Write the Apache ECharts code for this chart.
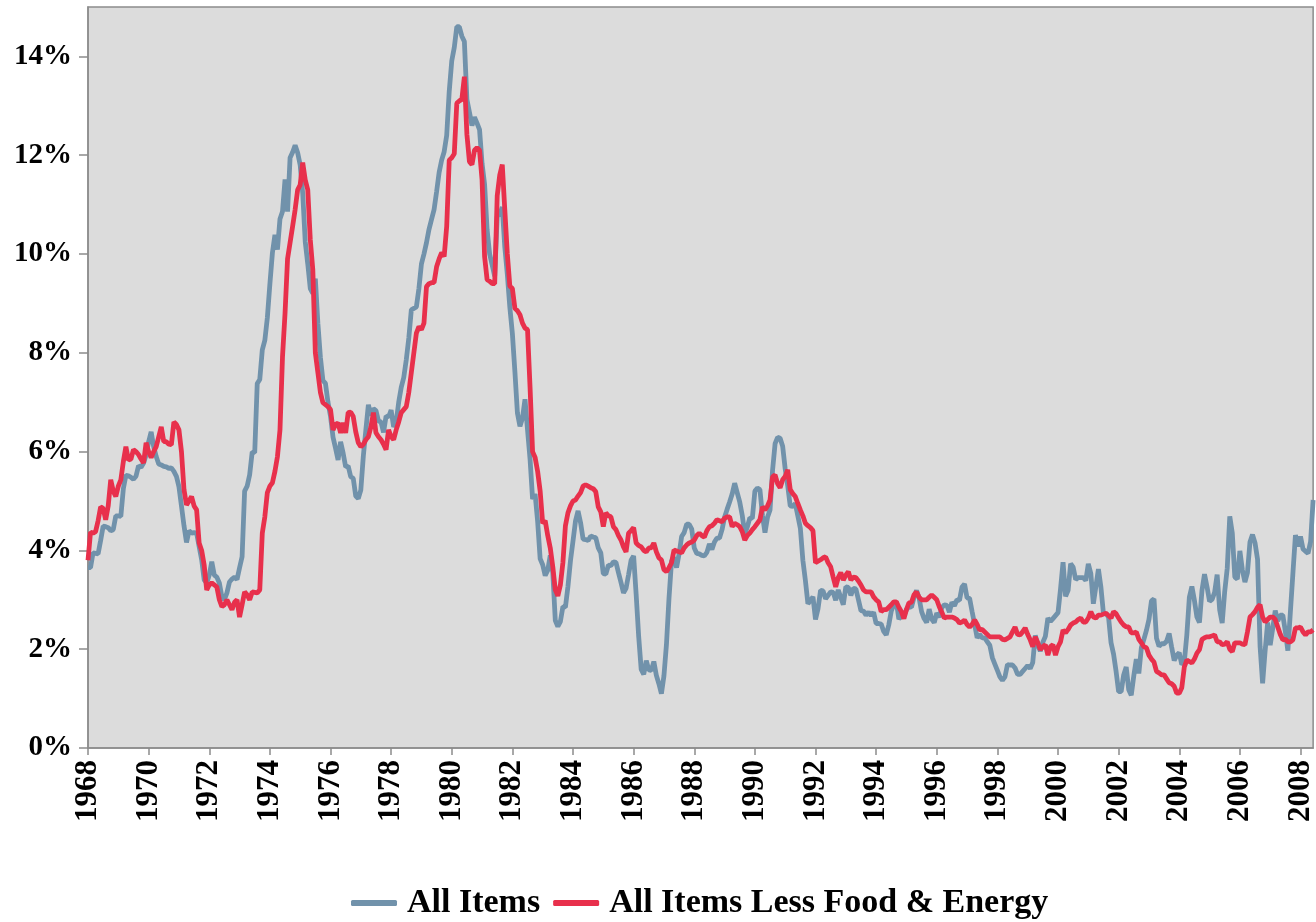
<!DOCTYPE html>
<html>
<head>
<meta charset="utf-8">
<script src="https://cdn.jsdelivr.net/npm/echarts@6/dist/echarts.min.js"></script>
<style>
  html, body { margin: 0; padding: 0; background: #fff; }
  .chart { width: 1316px; height: 922px; }
</style>
</head>
<body>
<div class="chart"></div>
<script>
// 月度同比, 1968年1月 - 2008年6月
const startYear = 1968
const seriesNames = ['All Items', 'All Items Less Food & Energy']
const yTicks = [0, 2, 4, 6, 8, 10, 12, 14]

const allItems = [
    3.65, 3.65, 3.95, 3.94, 3.93, 4.20, 4.49, 4.48, 4.46, 4.40, 4.42, 4.70, // 1968
    4.70, 4.69, 5.25, 5.52, 5.51, 5.48, 5.44, 5.50, 5.71, 5.68, 5.77, 5.93,
    6.20, 6.40, 6.10, 5.90, 5.75, 5.73, 5.70, 5.69, 5.66, 5.67, 5.60, 5.50, // 1970
    5.29, 4.90, 4.50, 4.16, 4.40, 4.35, 4.36, 4.35, 4.08, 3.81, 3.40, 3.34,
    3.50, 3.77, 3.50, 3.46, 3.34, 3.06, 3.00, 3.14, 3.36, 3.42, 3.46, 3.41, // 1972
    3.65, 3.87, 5.20, 5.30, 5.53, 5.99, 5.98, 7.38, 7.46, 8.06, 8.25, 8.71,
    9.39, 10.02, 10.39, 10.09, 10.71, 10.86, 11.51, 10.86, 11.95, 12.06, 12.20, 12.05, // 1974
    11.80, 11.23, 10.25, 9.80, 9.30, 9.20, 9.50, 8.60, 7.91, 7.44, 7.38, 7.00,
    6.72, 6.29, 6.07, 5.83, 6.20, 5.97, 5.69, 5.71, 5.49, 5.46, 5.10, 5.05, // 1976
    5.22, 5.91, 6.44, 6.95, 6.73, 6.87, 6.83, 6.62, 6.60, 6.39, 6.72, 6.70,
    6.84, 6.50, 6.60, 7.00, 7.30, 7.50, 7.86, 8.30, 8.87, 8.90, 8.93, 9.30, // 1978
    9.80, 10.00, 10.23, 10.50, 10.70, 10.90, 11.26, 11.65, 11.90, 12.07, 12.40, 13.29,
    13.91, 14.18, 14.60, 14.60, 14.41, 14.30, 13.13, 12.87, 12.60, 12.77, 12.65, 12.52, // 1980
    11.83, 11.41, 10.49, 10.00, 9.78, 9.55, 10.76, 10.80, 10.95, 10.14, 9.59, 8.92,
    8.39, 7.62, 6.78, 6.51, 6.68, 7.06, 6.44, 5.85, 5.04, 5.14, 4.59, 3.83, // 1982
    3.71, 3.49, 3.60, 3.90, 3.55, 2.58, 2.46, 2.56, 2.86, 2.85, 3.27, 3.79,
    4.19, 4.60, 4.80, 4.56, 4.23, 4.22, 4.20, 4.29, 4.27, 4.26, 4.05, 3.95, // 1984
    3.53, 3.52, 3.70, 3.69, 3.77, 3.76, 3.55, 3.35, 3.14, 3.23, 3.51, 3.80,
    3.89, 3.11, 2.26, 1.59, 1.49, 1.77, 1.58, 1.57, 1.75, 1.47, 1.30, 1.10, // 1986
    1.46, 2.10, 3.03, 3.78, 3.86, 3.65, 3.93, 4.28, 4.36, 4.53, 4.53, 4.43,
    4.05, 3.94, 3.93, 3.90, 3.89, 3.96, 4.13, 4.02, 4.17, 4.25, 4.25, 4.42, // 1988
    4.67, 4.83, 4.98, 5.14, 5.36, 5.17, 4.98, 4.71, 4.34, 4.47, 4.66, 4.65,
    5.20, 5.26, 5.23, 4.71, 4.36, 4.67, 4.82, 5.62, 6.16, 6.29, 6.27, 6.11, // 1990
    5.65, 5.31, 4.90, 4.89, 4.95, 4.70, 4.45, 3.80, 3.39, 2.92, 2.99, 3.06,
    2.60, 2.82, 3.19, 3.18, 3.02, 3.09, 3.16, 3.15, 2.99, 3.20, 3.05, 2.90, // 1992
    3.26, 3.25, 3.09, 3.23, 3.22, 3.00, 2.78, 2.77, 2.69, 2.75, 2.68, 2.75,
    2.52, 2.52, 2.51, 2.36, 2.29, 2.49, 2.77, 2.90, 2.96, 2.61, 2.67, 2.67, // 1994
    2.80, 2.86, 2.85, 3.05, 3.19, 3.04, 2.76, 2.62, 2.54, 2.81, 2.61, 2.54,
    2.73, 2.65, 2.84, 2.90, 2.89, 2.75, 2.95, 2.88, 3.00, 2.99, 3.26, 3.32, // 1996
    3.04, 3.03, 2.76, 2.50, 2.23, 2.30, 2.23, 2.23, 2.15, 2.08, 1.83, 1.70,
    1.57, 1.44, 1.37, 1.44, 1.69, 1.68, 1.68, 1.62, 1.49, 1.49, 1.55, 1.61, // 1998
    1.67, 1.61, 1.73, 2.28, 2.09, 1.96, 2.14, 2.26, 2.63, 2.56, 2.62, 2.68,
    2.74, 3.22, 3.76, 3.07, 3.19, 3.73, 3.66, 3.41, 3.45, 3.45, 3.45, 3.39, // 2000
    3.73, 3.53, 2.92, 3.27, 3.62, 3.25, 2.72, 2.72, 2.65, 2.13, 1.90, 1.55,
    1.14, 1.14, 1.48, 1.64, 1.18, 1.07, 1.46, 1.80, 1.51, 2.03, 2.20, 2.38, // 2002
    2.60, 2.98, 3.02, 2.22, 2.06, 2.11, 2.11, 2.16, 2.32, 2.04, 1.77, 1.88,
    1.93, 1.69, 1.74, 2.29, 3.05, 3.27, 2.99, 2.65, 2.54, 3.19, 3.52, 3.26, // 2004
    2.97, 3.01, 3.15, 3.51, 2.80, 2.53, 3.17, 3.64, 4.69, 4.35, 3.46, 3.42,
    3.99, 3.60, 3.36, 3.55, 4.17, 4.32, 4.15, 3.82, 2.06, 1.31, 1.97, 2.54, // 2006
    2.08, 2.42, 2.78, 2.57, 2.69, 2.69, 2.36, 1.97, 2.76, 3.54, 4.31, 4.08,
    4.28, 4.03, 3.98, 3.94, 4.18, 5.02 // 2008
]

const coreItems = [
    3.80, 4.37, 4.35, 4.38, 4.60, 4.88, 4.85, 4.62, 4.90, 5.43, 5.20, 5.09, // 1968
    5.30, 5.43, 5.80, 6.10, 5.83, 5.85, 6.04, 6.00, 5.94, 5.85, 5.77, 6.18,
    6.00, 5.88, 6.00, 6.10, 6.30, 6.50, 6.20, 6.20, 6.15, 6.14, 6.60, 6.55, // 1970
    6.44, 6.00, 5.23, 4.92, 5.00, 5.09, 4.90, 4.82, 4.15, 4.00, 3.70, 3.20,
    3.30, 3.34, 3.30, 3.26, 3.00, 2.86, 2.90, 3.00, 2.90, 2.80, 2.95, 3.00, // 1972
    2.65, 2.90, 3.16, 3.10, 3.00, 3.16, 3.15, 3.14, 3.20, 4.35, 4.68, 5.17,
    5.30, 5.37, 5.60, 5.90, 6.44, 7.92, 8.80, 9.90, 10.23, 10.56, 10.90, 11.30, // 1974
    11.40, 11.85, 11.50, 11.30, 10.29, 9.68, 8.00, 7.60, 7.20, 6.99, 6.95, 6.91,
    6.85, 6.44, 6.55, 6.58, 6.38, 6.58, 6.38, 6.79, 6.80, 6.71, 6.40, 6.18, // 1976
    6.10, 6.15, 6.24, 6.30, 6.50, 6.79, 6.38, 6.30, 6.24, 6.15, 6.04, 6.44,
    6.30, 6.24, 6.44, 6.60, 6.79, 6.85, 6.91, 7.20, 7.60, 8.00, 8.40, 8.53, // 1978
    8.47, 8.60, 9.34, 9.40, 9.42, 9.42, 9.74, 9.90, 10.03, 9.95, 10.56, 11.90,
    11.95, 12.03, 13.05, 13.10, 13.13, 13.59, 12.42, 11.87, 11.81, 12.10, 12.15, 12.10, // 1980
    11.50, 9.95, 9.48, 9.45, 9.40, 9.40, 11.18, 11.60, 11.81, 10.90, 10.00, 9.35,
    9.30, 8.90, 8.85, 8.77, 8.60, 8.50, 8.47, 7.30, 6.00, 5.88, 5.60, 5.20, // 1982
    4.55, 4.60, 4.30, 4.05, 3.67, 3.20, 3.08, 3.30, 3.75, 4.50, 4.76, 4.90,
    5.00, 5.02, 5.10, 5.17, 5.30, 5.33, 5.30, 5.27, 5.25, 5.19, 4.88, 4.78, // 1984
    4.48, 4.76, 4.70, 4.68, 4.48, 4.42, 4.30, 4.21, 4.07, 3.97, 4.35, 4.40,
    4.46, 4.15, 4.10, 4.07, 4.00, 3.97, 4.05, 4.05, 4.15, 3.97, 3.85, 3.81, // 1986
    3.61, 3.57, 3.65, 3.75, 4.01, 3.99, 3.97, 3.95, 4.05, 4.11, 4.15, 4.17,
    4.21, 4.30, 4.35, 4.30, 4.27, 4.40, 4.48, 4.50, 4.55, 4.62, 4.60, 4.58, // 1988
    4.65, 4.68, 4.68, 4.48, 4.55, 4.52, 4.48, 4.38, 4.21, 4.30, 4.35, 4.42,
    4.48, 4.55, 4.62, 4.88, 4.82, 4.90, 5.02, 5.49, 5.53, 5.35, 5.27, 5.43, // 1990
    5.50, 5.63, 5.23, 5.15, 5.09, 4.95, 4.82, 4.70, 4.55, 4.50, 4.46, 4.40,
    3.75, 3.78, 3.81, 3.85, 3.87, 3.75, 3.67, 3.46, 3.26, 3.45, 3.55, 3.40, // 1992
    3.50, 3.57, 3.40, 3.46, 3.45, 3.38, 3.30, 3.20, 3.16, 3.16, 3.16, 3.06,
    3.00, 2.96, 2.76, 2.80, 2.80, 2.85, 2.90, 2.96, 2.96, 2.85, 2.76, 2.62, // 1994
    2.80, 2.94, 2.95, 3.10, 3.16, 3.05, 3.00, 3.00, 3.00, 3.05, 3.10, 3.05,
    3.00, 2.86, 2.75, 2.63, 2.65, 2.65, 2.65, 2.63, 2.60, 2.53, 2.55, 2.59, // 1996
    2.50, 2.45, 2.50, 2.59, 2.50, 2.39, 2.40, 2.35, 2.30, 2.25, 2.25, 2.25,
    2.25, 2.25, 2.20, 2.19, 2.22, 2.25, 2.35, 2.45, 2.30, 2.29, 2.35, 2.43, // 1998
    2.30, 2.19, 2.05, 2.25, 2.13, 1.99, 2.05, 2.09, 1.88, 2.05, 2.09, 1.88,
    2.05, 2.15, 2.39, 2.33, 2.40, 2.49, 2.53, 2.55, 2.60, 2.63, 2.55, 2.55, // 2000
    2.63, 2.76, 2.65, 2.63, 2.69, 2.69, 2.71, 2.73, 2.68, 2.63, 2.76, 2.72,
    2.63, 2.55, 2.49, 2.45, 2.45, 2.33, 2.33, 2.35, 2.20, 2.13, 2.05, 2.03, // 2002
    1.88, 1.80, 1.74, 1.55, 1.52, 1.48, 1.48, 1.40, 1.32, 1.30, 1.25, 1.11,
    1.11, 1.22, 1.64, 1.78, 1.75, 1.72, 1.80, 1.92, 1.99, 2.20, 2.23, 2.25, // 2004
    2.25, 2.27, 2.29, 2.15, 2.15, 2.09, 2.10, 2.15, 2.00, 1.95, 2.13, 2.13,
    2.13, 2.10, 2.09, 2.35, 2.65, 2.70, 2.76, 2.85, 2.90, 2.65, 2.55, 2.60, // 2006
    2.65, 2.65, 2.60, 2.45, 2.30, 2.19, 2.20, 2.15, 2.15, 2.19, 2.43, 2.43,
    2.45, 2.35, 2.29, 2.35, 2.35, 2.39 // 2008
]

;(function () {
    const myChart = echarts.init(document.querySelector('.chart'))
    const font = 'Liberation Serif'
    const lastIndex = allItems.length - 1
    const option = {
        animation: false,
        backgroundColor: '#fff',
        grid: {
            left: 88,
            right: 0,
            top: 7,
            bottom: 174,
            show: true,
            backgroundColor: '#dcdcdc',
            borderColor: '#8c8c8c',
            borderWidth: 1.5
        },
        legend: {
            data: seriesNames,
            left: 346,
            top: 881,
            icon: 'roundRect',
            itemWidth: 46,
            itemHeight: 6,
            itemGap: 13,
            textStyle: {
                fontFamily: font,
                fontWeight: 'bold',
                fontSize: 34,
                color: '#000',
                padding: [0, 0, 0, 5]
            }
        },
        xAxis: {
            type: 'value',
            min: 0,
            max: lastIndex,
            interval: 24,
            axisLine: { lineStyle: { color: '#8c8c8c', width: 1.5 } },
            axisTick: { length: 7, lineStyle: { color: '#8c8c8c', width: 1.5 } },
            splitLine: { show: false },
            axisLabel: {
                rotate: 90,
                margin: 12,
                showMaxLabel: false,
                fontFamily: font,
                fontWeight: 'bold',
                fontSize: 31,
                color: '#000',
                formatter: function (v) {
                    return String(startYear + v / 12)
                }
            }
        },
        yAxis: {
            type: 'value',
            min: 0,
            max: 15,
            interval: 2,
            axisLine: { show: true, lineStyle: { color: '#8c8c8c', width: 1.5 } },
            axisTick: { show: true, length: 9, customValues: yTicks, lineStyle: { color: '#8c8c8c', width: 1.5 } },
            splitLine: { show: false },
            axisLabel: {
                margin: 16,
                customValues: yTicks,
                fontFamily: font,
                fontWeight: 'bold',
                fontSize: 29,
                color: '#000',
                formatter: '{value}%'
            }
        },
        series: [
            {
                name: seriesNames[0],
                type: 'line',
                symbol: 'none',
                itemStyle: { color: '#7192ab' },
                lineStyle: { width: 4.8, color: '#7192ab' },
                data: allItems.map((v, i) => [i, v])
            },
            {
                name: seriesNames[1],
                type: 'line',
                symbol: 'none',
                itemStyle: { color: '#e8304c' },
                lineStyle: { width: 4.8, color: '#e8304c' },
                data: coreItems.map((v, i) => [i, v])
            }
        ]
    }
    myChart.setOption(option)
})()
</script>
</body>
</html>
